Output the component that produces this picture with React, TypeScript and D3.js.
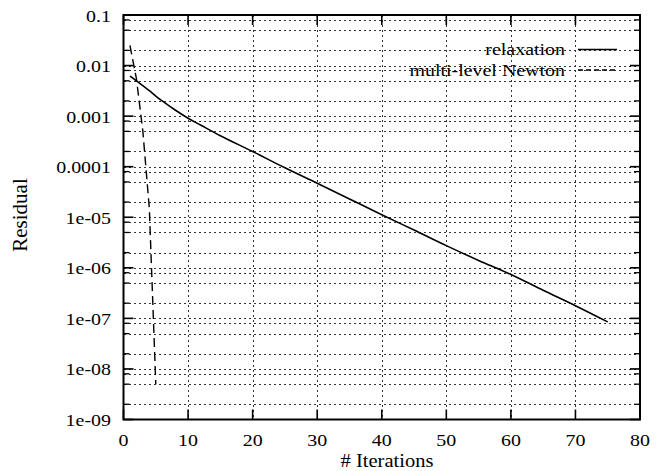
import React, { useEffect, useRef } from 'react';
import * as d3 from 'd3';

// values
const relaxIter = [1, 2, 3, 4, 5, 6, 8, 10, 12, 15, 20, 25, 30, 35, 40, 45, 50, 55, 60, 65, 70, 75];
const relaxResidual = [
  6.2e-3, 5.0e-3, 4.0e-3, 3.2e-3, 2.5e-3, 2.0e-3, 1.32e-3, 9.1e-4, 6.6e-4, 4.1e-4,
  2.0e-4, 9.5e-5, 4.7e-5, 2.3e-5, 1.12e-5, 5.6e-6, 2.75e-6, 1.4e-6, 7.4e-7, 3.6e-7,
  1.78e-7, 8.5e-8,
];
const newtonIter = [1, 2, 3, 4, 5];
const newtonResidual = [0.025, 0.0055, 0.0005, 1.5e-5, 5e-9];

const xTicks = [0, 10, 20, 30, 40, 50, 60, 70, 80];
const yTicks = [0.1, 0.01, 0.001, 0.0001, 1e-5, 1e-6, 1e-7, 1e-8, 1e-9];
const yTickLabels = ['0.1', '0.01', '0.001', '0.0001', '1e-05', '1e-06', '1e-07', '1e-08', '1e-09'];
const minorFactors = [2, 5, 8];
const seriesNames = ['relaxation', 'multi-level Newton'];

export default function App() {
  const ref = useRef<SVGSVGElement>(null);

  useEffect(() => {
    const svg = d3.select(ref.current);
    svg.selectAll('*').remove();

    const left = 123.5, right = 640, top = 15, bottom = 419.5;
    const font = "'Liberation Serif', 'Times New Roman', serif";
    const stretch = 1.14;

    const x = d3.scaleLinear().domain([0, 80]).range([left, right]);
    const y = d3.scaleLog().domain([1e-9, 0.1]).range([bottom, top]);

    // minor positions in each decade
    const minors: number[] = [];
    yTicks.slice(1).forEach(d => minorFactors.forEach(f => minors.push(d * f)));

    const grid = svg.append('g')
      .attr('stroke', '#333')
      .attr('stroke-width', 1)
      .attr('shape-rendering', 'crispEdges')
      .attr('stroke-dasharray', '2,3');

    grid.selectAll('line.h')
      .data([...yTicks.slice(1, -1), ...minors])
      .enter().append('line')
      .attr('x1', left).attr('x2', right)
      .attr('y1', d => Math.round(y(d)) + 0.5).attr('y2', d => Math.round(y(d)) + 0.5);

    grid.selectAll('line.v')
      .data(xTicks.slice(1, -1))
      .enter().append('line')
      .attr('x1', d => Math.round(x(d)) + 0.5).attr('x2', d => Math.round(x(d)) + 0.5)
      .attr('y1', top).attr('y2', bottom);

    // ticks
    const ticks = svg.append('g').attr('stroke', '#000');
    yTicks.forEach(d => {
      ticks.append('line').attr('x1', left).attr('x2', left + 10).attr('y1', y(d)).attr('y2', y(d)).attr('stroke-width', 1.6);
      ticks.append('line').attr('x1', right).attr('x2', right - 10).attr('y1', y(d)).attr('y2', y(d)).attr('stroke-width', 1.6);
    });
    minors.forEach(d => {
      ticks.append('line').attr('x1', left).attr('x2', left + 6).attr('y1', y(d)).attr('y2', y(d)).attr('stroke-width', 1.3);
      ticks.append('line').attr('x1', right).attr('x2', right - 6).attr('y1', y(d)).attr('y2', y(d)).attr('stroke-width', 1.3);
    });
    xTicks.forEach(d => {
      ticks.append('line').attr('x1', x(d)).attr('x2', x(d)).attr('y1', bottom).attr('y2', bottom - 10).attr('stroke-width', 1.6);
      ticks.append('line').attr('x1', x(d)).attr('x2', x(d)).attr('y1', top).attr('y2', top + 10).attr('stroke-width', 1.6);
    });

    // frame
    svg.append('rect')
      .attr('x', left).attr('y', top)
      .attr('width', right - left).attr('height', bottom - top)
      .attr('fill', 'none').attr('stroke', '#000').attr('stroke-width', 2);

    const label = (tx: number, ty: number, text: string, anchor: string, size = 17.5) =>
      svg.append('g').attr('transform', `translate(${tx},${ty})`)
        .append('text')
        .attr('transform', `scale(${stretch},1)`)
        .attr('text-anchor', anchor)
        .attr('font-family', font)
        .attr('font-size', size)
        .attr('fill', '#000')
        .text(text);

    yTicks.forEach((d, i) => label(111, y(d) + 6.5, yTickLabels[i], 'end'));
    xTicks.forEach(d => label(x(d), 446, String(d), 'middle'));

    label(387, 467, '# Iterations', 'middle', 18);
    svg.append('text')
      .attr('transform', 'translate(27,215) rotate(-90)')
      .attr('text-anchor', 'middle')
      .attr('font-family', font)
      .attr('font-size', 21)
      .text('Residual');

    // series
    const line = d3.line<[number, number]>()
      .x(d => x(d[0])).y(d => y(d[1]))
      .curve(d3.curveMonotoneX);

    svg.append('path')
      .datum(relaxIter.map((d, i) => [d, relaxResidual[i]] as [number, number]))
      .attr('d', line)
      .attr('fill', 'none').attr('stroke', '#000').attr('stroke-width', 1.6);

    svg.append('path')
      .datum(newtonIter.map((d, i) => [d, newtonResidual[i]] as [number, number]))
      .attr('d', line.curve(d3.curveLinear))
      .attr('fill', 'none').attr('stroke', '#000').attr('stroke-width', 1.4)
      .attr('stroke-dasharray', '9,5');

    // legend
    label(565, 55, seriesNames[0], 'end');
    label(565, 76, seriesNames[1], 'end');
    svg.append('line').attr('x1', 578).attr('x2', 617).attr('y1', 49.5).attr('y2', 49.5)
      .attr('stroke', '#000').attr('stroke-width', 1.6);
    svg.append('line').attr('x1', 578).attr('x2', 617).attr('y1', 70).attr('y2', 70)
      .attr('stroke', '#000').attr('stroke-width', 1.4).attr('stroke-dasharray', '5,3');
  }, []);

  return (
    <div>
      <svg ref={ref} width={661} height={471}
        style={{ position: 'absolute', left: 0, top: 0, background: '#fff' }} />
    </div>
  );
}
